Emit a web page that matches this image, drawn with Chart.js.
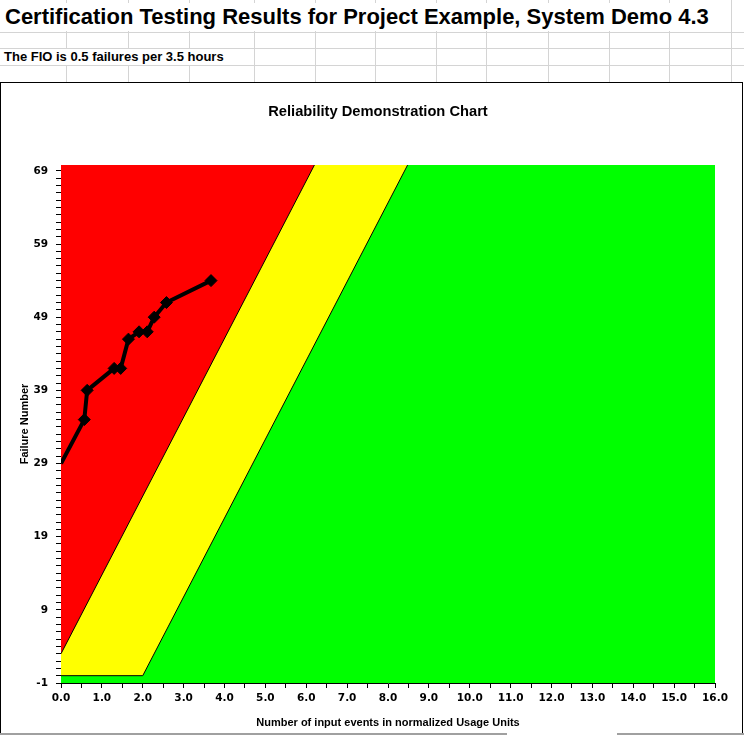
<!DOCTYPE html>
<html>
<head>
<meta charset="utf-8">
<script src="https://cdn.jsdelivr.net/npm/chart.js@4/dist/chart.umd.min.js"></script>
<style>
  html, body { margin:0; padding:0; background:#fff; }
  body { width:744px; height:735px; position:relative; overflow:hidden; font-family:'Liberation Sans', Arial, sans-serif; }
  .gl { position:absolute; background:#d4d4d4; }
  .blk { position:absolute; background:#000; }
  .gray { position:absolute; background:#a0a0a0; }
  #title { position:absolute; left:0; top:3px; width:729px; height:28px; background:#fff; }
  #title span { position:absolute; left:5px; top:0; line-height:28px; font-weight:bold; font-size:22px; color:#000; white-space:nowrap; }
  #fio { position:absolute; left:0; top:49px; width:250px; height:16px; background:#fff; }
  #fio span { position:absolute; left:4px; top:0; line-height:16px; font-weight:bold; font-size:13px; color:#000; white-space:nowrap; }
  #chartbox { position:absolute; left:1px; top:83px; width:741px; height:650px; background:#fff; }
  #ctitle { position:absolute; left:378px; top:102px; transform:translateX(-50%); line-height:18px; font-weight:bold; font-size:14.7px; white-space:nowrap; color:#000; }
  canvas { position:absolute; left:0; top:0; }
</style>
</head>
<body>
<div id="grid"></div>
<div id="title"><span>Certification Testing Results for Project Example, System Demo 4.3</span></div>
<div id="fio"><span>The FIO is 0.5 failures per 3.5 hours</span></div>
<div id="chartbox"><canvas id="c" width="741" height="650"></canvas></div>
<div class="blk" style="left:0;top:82px;width:743px;height:1px;"></div>
<div class="blk" style="left:0;top:82px;width:1px;height:651px;"></div>
<div class="blk" style="left:742px;top:82px;width:1px;height:651px;"></div>
<div class="gray" style="left:0;top:733px;width:507px;height:2px;"></div>
<div class="gray" style="left:617px;top:733px;width:127px;height:2px;"></div>
<div id="ctitle">Reliability Demonstration Chart</div>
<script>
// ---- data ----
const usageUnits   = [0, 0.57, 0.64, 1.30, 1.46, 1.65, 1.91, 2.11, 2.28, 2.58, 3.67];
const failureNums  = [29, 35, 39, 42, 42, 46, 47, 47, 49, 51, 54];
const rejectX      = [0, 6.2];
const rejectY      = [3, 69.8];
const acceptX      = [0, 2.0, 8.48];
const acceptY      = [0, 0, 69.8];
const regionX      = [0, 16];
const regionY      = [-1, -1];
const xRange       = [0, 16];
const yRange       = [-1, 69.8];
const titleX = 'Number of input events in normalized Usage Units';
const titleY = 'Failure Number';

// ---- spreadsheet grid ----
const colLines = [66, 128, 189, 254, 315, 375, 436, 486, 548, 609, 669, 731];
const rowLines = [32, 48, 65];
const grid = document.getElementById('grid');
colLines.forEach(x => { const d = document.createElement('div'); d.className='gl'; d.style.cssText=`left:${x}px;top:0;width:1px;height:82px;`; grid.appendChild(d); });
rowLines.forEach(y => { const d = document.createElement('div'); d.className='gl'; d.style.cssText=`left:0;top:${y}px;width:744px;height:1px;`; grid.appendChild(d); });

const pts = (xs, ys) => xs.map((x, i) => ({x, y: ys[i]}));
const tickFont = {family:'DejaVu Sans', weight:'bold', size:10.5};
const axTitleFont = {family:'Liberation Sans', weight:'bold', size:11, lineHeight:1.2};

new Chart(document.getElementById('c'), {
  type: 'scatter',
  data: {
    datasets: [
      { label:'Failures', data: pts(usageUnits, failureNums), showLine:true,
        borderColor:'#000', borderWidth:4, borderJoinStyle:'round',
        pointStyle:'rectRot', pointRadius: usageUnits.map((v,i)=> i===0 ? 0 : 6),
        pointBackgroundColor:'#000', pointBorderColor:'#000', pointBorderWidth:1, clip:0, fill:false },
      { label:'Reject', data: pts(rejectX, rejectY), showLine:true, borderColor:'#000', borderWidth:1,
        backgroundColor:'#ff0000', fill:'end', pointRadius:0, clip:0 },
      { label:'Continue', data: pts(acceptX, acceptY), showLine:true, borderColor:'#000', borderWidth:1,
        backgroundColor:'#ffff00', fill:'end', pointRadius:0, clip:0 },
      { label:'Accept', data: pts(regionX, regionY), showLine:true, borderWidth:0, borderColor:'rgba(0,0,0,0)',
        backgroundColor:'#00ff00', fill:'end', pointRadius:0, clip:0 }
    ]
  },
  options: {
    responsive:false, animation:false, devicePixelRatio:1,
    layout: { padding: { top:82, left:0, right:27, bottom:0 } },
    plugins: { legend:{display:false}, tooltip:{enabled:false}, title:{display:false} },
    scales: {
      x: { type:'linear', min:xRange[0], max:xRange[1],
        ticks:{ stepSize:0.5, autoSkip:false, maxRotation:0, includeBounds:false, color:'#000', font:tickFont, padding:4,
          callback: v => Number.isInteger(v) ? v.toFixed(1) : '' },
        grid:{ drawOnChartArea:false, drawTicks:true, tickLength:5, tickColor:'#000' },
        border:{ color:'#000', width:1 },
        title:{ display:true, text:titleX, color:'#000', font:axTitleFont, padding:{top:0, bottom:3.7} },
        afterFit: s => { s.height = 50; } },
      y: { type:'linear', min:yRange[0], max:yRange[1],
        ticks:{ stepSize:1, autoSkip:false, includeBounds:false, color:'#000', font:tickFont, padding:8,
          callback: v => ((v + 1) % 10 === 0) ? String(v) : '' },
        grid:{ drawOnChartArea:false, drawTicks:true, tickLength:5, tickColor:'#000' },
        border:{ color:'#000', width:1 },
        title:{ display:true, text:titleY, color:'#000', font:axTitleFont, padding:{top:17.4, bottom:0} },
        afterFit: s => { s.width = 60; } }
    }
  }
});
</script>
</body>
</html>
